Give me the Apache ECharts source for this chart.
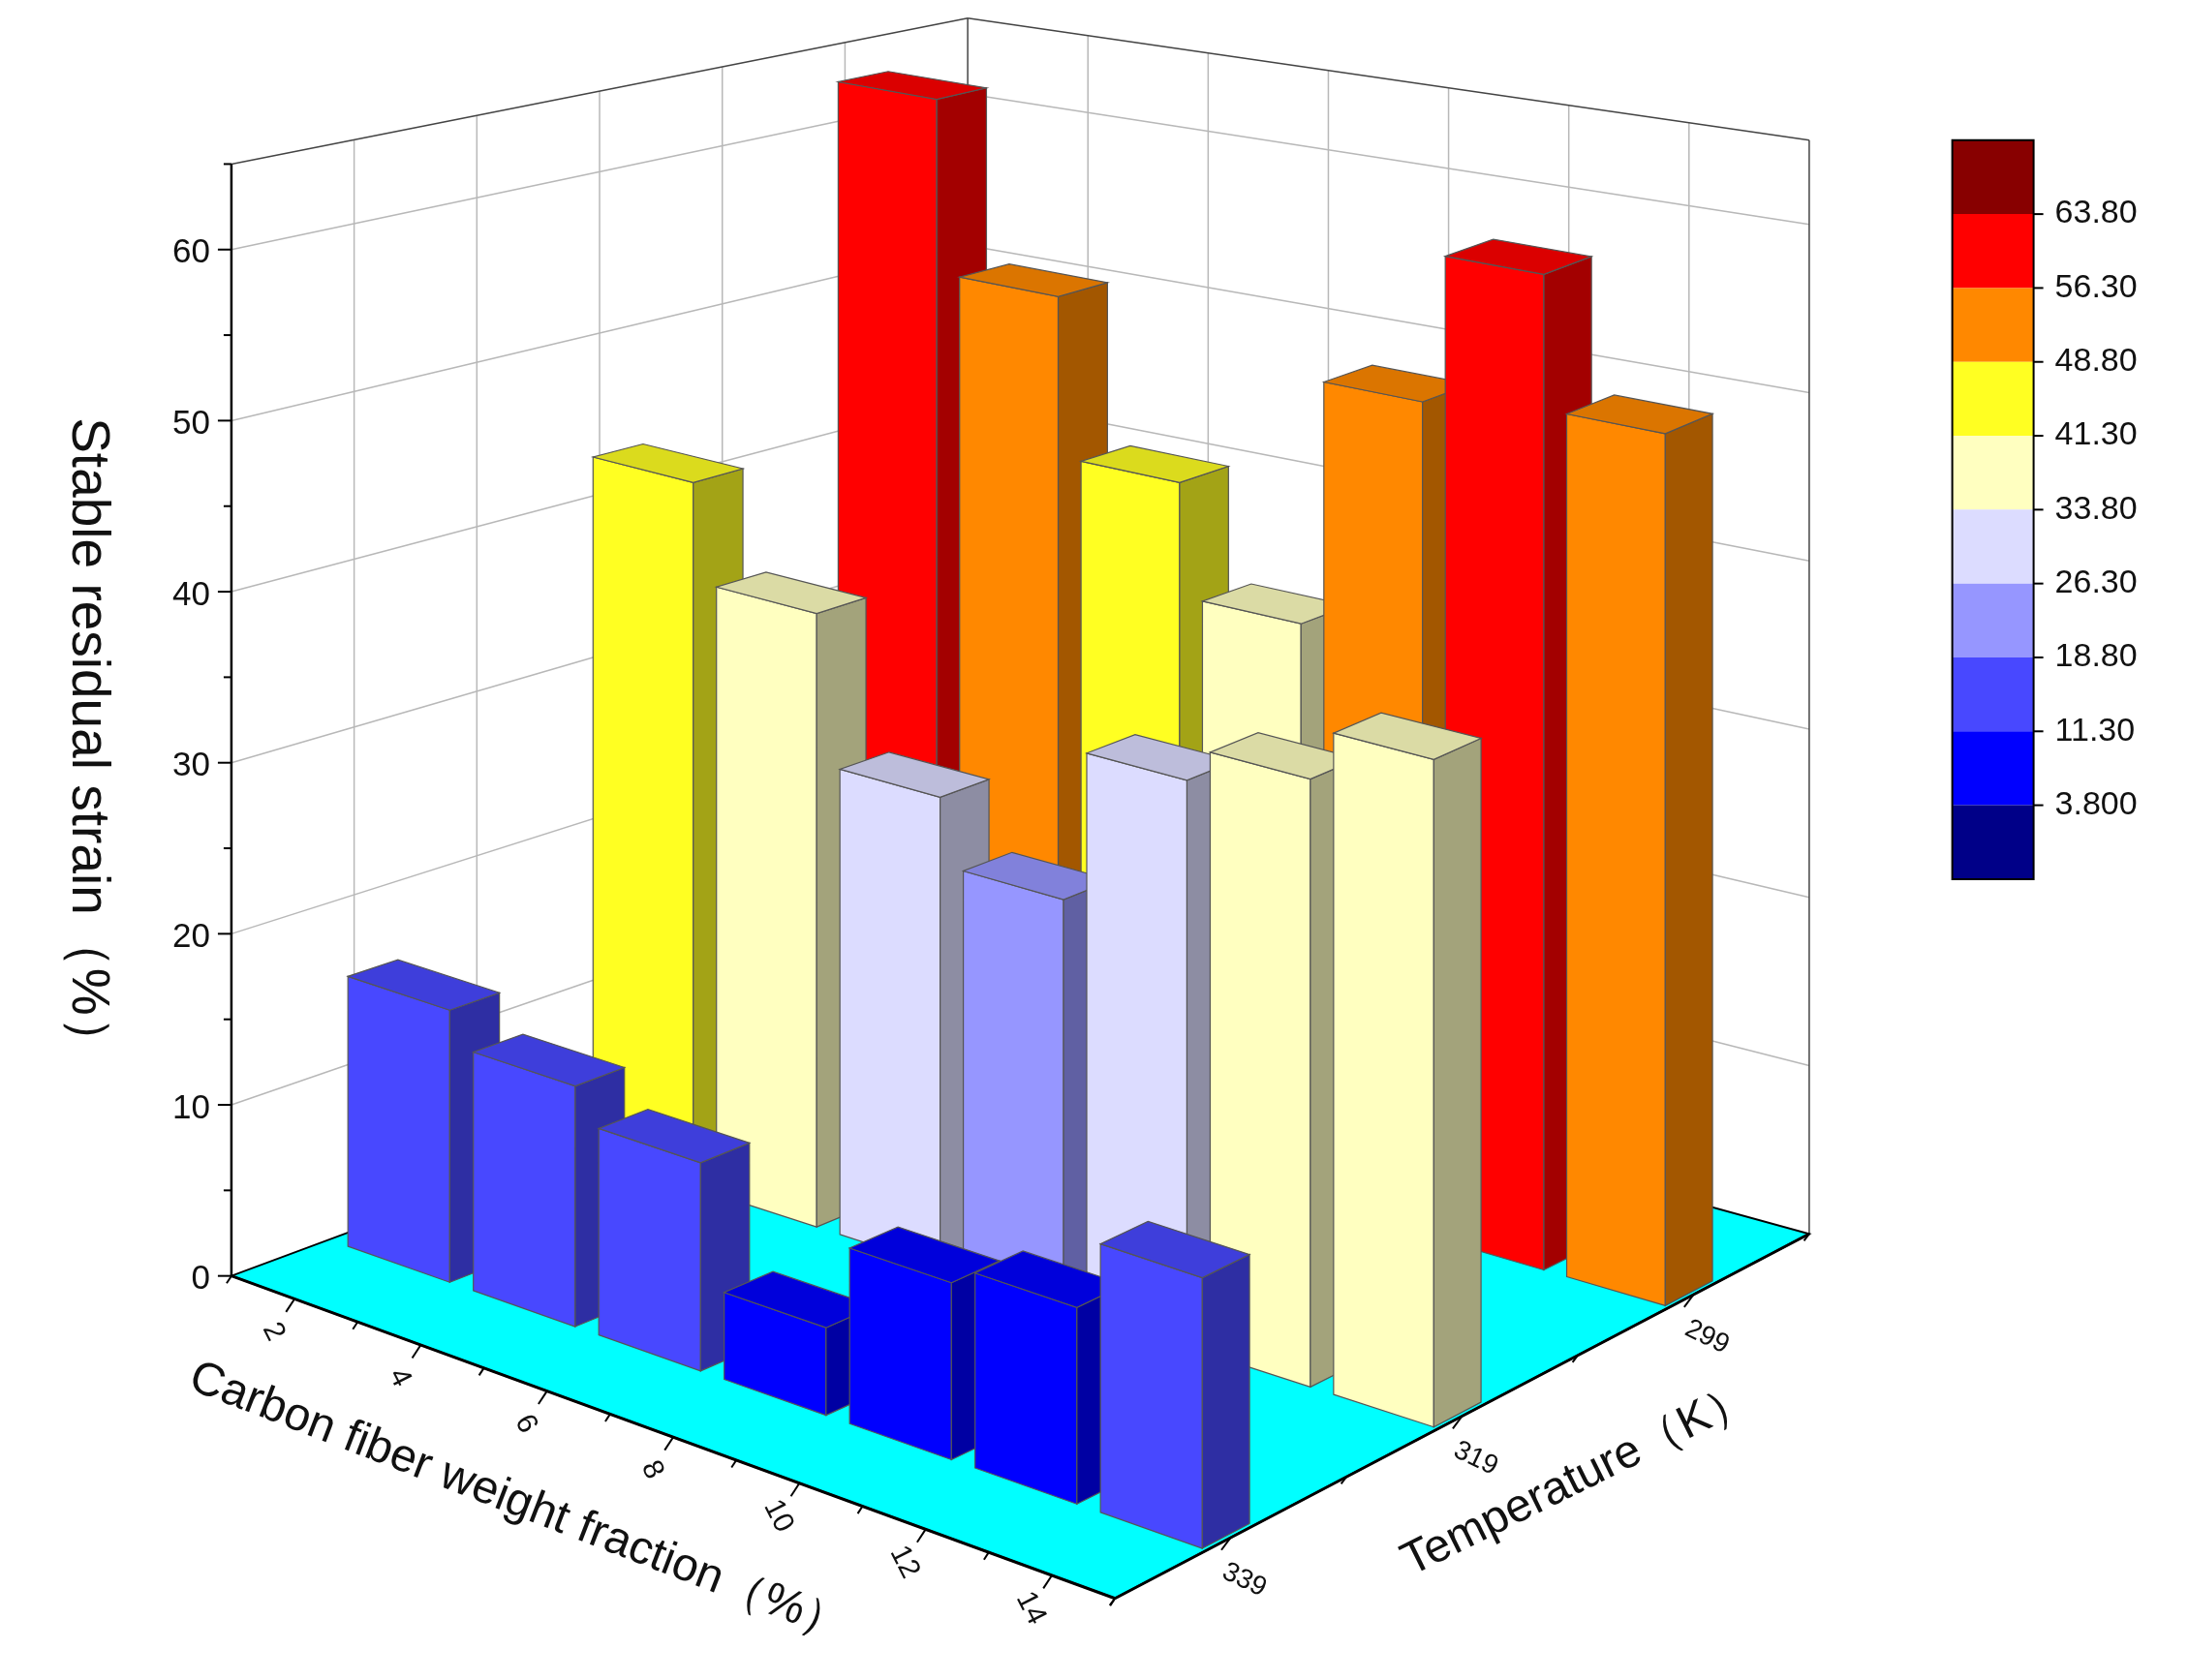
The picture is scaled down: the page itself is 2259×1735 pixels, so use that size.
<!DOCTYPE html>
<html>
<head>
<meta charset="utf-8" />
<title>Stable residual strain</title>
<script src="https://cdn.jsdelivr.net/npm/echarts@6/dist/echarts.min.js"></script>
<style>html,body{margin:0;padding:0;background:#fff;}</style>
</head>
<body>
<div id="chart" style="width:2259px;height:1735px;"></div>
<script>
// categories
var fractions = ['2', '4', '6', '8', '10', '12', '14'];
var temps = ['339', '319', '299'];
// strain values per temperature row (index = fraction)
var strain339 = [16, 14, 12, 5, 10, 11, 15];
var strain319 = [43, 37, 28, 24, 33, 35, 38];
var strain299 = [63, 52, 42, 35, 50, 59, 51];
var valueTicks = [0, 10, 20, 30, 40, 50, 60];
var legendLabels = ['63.80', '56.30', '48.80', '41.30', '33.80', '26.30', '18.80', '11.30', '3.800'];
var legendColors = ['#880000', '#ff0000', '#ff8800', '#ffff22', '#ffffc0', '#dcdcff', '#9696ff', '#4848ff', '#0000ff', '#000088'];
var bounds = [-3.7, 3.8, 11.3, 18.8, 26.3, 33.8, 41.3, 48.8, 56.3, 63.8, 71.3];

var W = 2259, H = 1735, S = 1.448, VMAX = 65;
// floor corners (u = fraction dir, w = temperature dir)
var A = [165 * S, 910 * S], B = [795 * S, 1140 * S], C = [1290 * S, 880 * S], D = [690 * S, 715 * S];
var sA = 12.2 * S, sB = 13 * S, sC = 12 * S, sD = 10.8 * S;

function proj(u, w, v) {
  var a = (1 - u) * (1 - w), b = u * (1 - w), c = u * w, d = (1 - u) * w;
  var x = a * A[0] + b * B[0] + c * C[0] + d * D[0];
  var y = a * A[1] + b * B[1] + c * C[1] + d * D[1];
  var s = a * sA + b * sB + c * sC + d * sD;
  return [x, y - v * s];
}

// bar data, far rows first so near bars paint on top
var rows = [strain339, strain319, strain299];
var barData = [];
for (var t = 2; t >= 0; t--) {
  for (var i = 0; i < fractions.length; i++) barData.push([i, t, rows[t][i]]);
}

function shade(hex, f) {
  var n = parseInt(hex.slice(1), 16);
  var r = Math.round(((n >> 16) & 255) * f), g = Math.round(((n >> 8) & 255) * f), b = Math.round((n & 255) * f);
  return 'rgb(' + r + ',' + g + ',' + b + ')';
}

var pieces = [];
for (var k = 0; k < 10; k++) pieces.push({ gte: bounds[k], lt: bounds[k + 1], color: legendColors[9 - k] });

var chart = echarts.init(document.getElementById('chart'));

function renderFrame(params, api) {
  var c = function (p) { return api.coord(p); };
  var poly = function (pts, style) { return { type: 'polygon', shape: { points: pts.map(c) }, style: style, silent: true }; };
  var line = function (p1, p2, col, lw) {
    var a = c(p1), b = c(p2);
    return { type: 'line', shape: { x1: a[0], y1: a[1], x2: b[0], y2: b[1] }, style: { stroke: col, lineWidth: lw }, silent: true };
  };
  var text = function (p, str, size, rot, align, vAlign) {
    var q = c(p);
    return { type: 'text', x: q[0], y: q[1], rotation: rot || 0, silent: true,
      style: { text: str, fontSize: size, fontFamily: 'Liberation Sans, Arial', fill: '#111', align: align || 'center', verticalAlign: vAlign || 'middle' } };
  };
  var ch = [];
  var grid = '#b8b8b8';
  // back walls
  ch.push(poly([proj(0, 0, 0), proj(0, 1, 0), proj(0, 1, VMAX), proj(0, 0, VMAX)], { fill: '#fff' }));
  ch.push(poly([proj(0, 1, 0), proj(1, 1, 0), proj(1, 1, VMAX), proj(0, 1, VMAX)], { fill: '#fff' }));
  for (var v = 10; v <= 60; v += 10) {
    ch.push(line(proj(0, 0, v), proj(0, 1, v), grid, 1.5));
    ch.push(line(proj(0, 1, v), proj(1, 1, v), grid, 1.5));
  }
  for (var k = 1; k < 6; k++) ch.push(line(proj(0, k / 6, 0), proj(0, k / 6, VMAX), grid, 1.5));
  for (var k = 1; k < 7; k++) ch.push(line(proj(k / 7, 1, 0), proj(k / 7, 1, VMAX), grid, 1.5));
  ch.push(line(proj(0, 0, VMAX), proj(0, 1, VMAX), '#444', 1.5));
  ch.push(line(proj(0, 1, VMAX), proj(1, 1, VMAX), '#444', 1.5));
  ch.push(line(proj(0, 1, 0), proj(0, 1, VMAX), '#444', 1.5));
  ch.push(line(proj(1, 1, 0), proj(1, 1, VMAX), '#444', 1.5));
  // floor
  ch.push(poly([proj(0, 0, 0), proj(1, 0, 0), proj(1, 1, 0), proj(0, 1, 0)], { fill: '#00ffff', stroke: '#000', lineWidth: 2 }));
  // value axis
  ch.push(line(proj(0, 0, 0), proj(0, 0, VMAX), '#000', 2.5));
  for (var v = 0; v <= VMAX; v += 5) {
    var p = proj(0, 0, v);
    ch.push(line(p, [p[0] - (v % 10 === 0 ? 14 : 8), p[1]], '#000', 2));
  }
  valueTicks.forEach(function (vt) {
    var p = proj(0, 0, vt);
    ch.push(text([p[0] - 22, p[1] + 4], String(vt), 35, 0, 'right'));
  });
  // fraction axis
  ch.push(line(proj(0, 0, 0), proj(1, 0, 0), '#000', 3));
  for (var k = 0; k <= 14; k++) {
    var p = proj(k / 14, 0, 0);
    var len = (k % 2 === 1) ? 16 : 9;
    ch.push(line(p, [p[0] - len * 0.55, p[1] + len * 0.84], '#000', 2));
  }
  fractions.forEach(function (f, i) {
    var p = proj((i + 0.5) / 7, 0, 0);
    ch.push(text([p[0] - 22, p[1] + 34], f, 30, -1.1));
  });
  // temperature axis
  ch.push(line(proj(1, 0, 0), proj(1, 1, 0), '#000', 3));
  for (var k = 0; k <= 6; k++) {
    var p = proj(1, k / 6, 0);
    var len = (k % 2 === 1) ? 16 : 9;
    ch.push(line(p, [p[0] - len * 0.6, p[1] + len * 0.8], '#000', 2));
  }
  temps.forEach(function (tl, t) {
    var p = proj(1, (t + 0.5) / 3, 0);
    ch.push(text([p[0] + 14, p[1] + 44], tl, 28, -0.45));
  });
  // axis titles
  ch.push(text([62 * S, 530 * S], 'Stable residual strain（%）', 55, -Math.PI / 2));
  ch.push(text([370 * S, 1072 * S], 'Carbon fiber weight fraction（%）', 48, -0.37));
  ch.push(text([1125 * S, 1055 * S], 'Temperature（K）', 48, 0.46));
  // colour legend
  var lx = 1392 * S, ly = 100 * S, lw = 58 * S, lh = 52.7 * S;
  legendColors.forEach(function (col, k) {
    ch.push({ type: 'rect', shape: { x: lx, y: ly + k * lh, width: lw, height: lh }, style: { fill: col }, silent: true });
  });
  ch.push({ type: 'rect', shape: { x: lx, y: ly, width: lw, height: lh * 10 }, style: { fill: null, stroke: '#000', lineWidth: 2 }, silent: true });
  legendLabels.forEach(function (lb, k) {
    var y = ly + (k + 1) * lh;
    ch.push({ type: 'line', shape: { x1: lx + lw, y1: y, x2: lx + lw + 10, y2: y }, style: { stroke: '#000', lineWidth: 2 }, silent: true });
    ch.push({ type: 'text', x: lx + lw + 22, y: y, silent: true,
      style: { text: lb, fontSize: 34, fontFamily: 'Liberation Sans, Arial', fill: '#111', align: 'left', verticalAlign: 'middle' } });
  });
  return { type: 'group', children: ch };
}

function renderBar(params, api) {
  var i = api.value(0), t = api.value(1), v = api.value(2);
  var col = api.visual('color');
  var uc = (i + 0.5) / 7 + 0.008, wc = (t + 0.5) / 3, du = 0.058, dw = 0.034;
  var u0 = uc - du, u1 = uc + du, w0 = wc - dw, w1 = wc + dw;
  var c = function (p) { return api.coord(p); };
  var edge = { stroke: '#555', lineWidth: 1.2 };
  var face = function (pts, fill) {
    return { type: 'polygon', shape: { points: pts.map(c) }, style: Object.assign({ fill: fill }, edge) };
  };
  return { type: 'group', children: [
    face([proj(u0, w0, 0), proj(u1, w0, 0), proj(u1, w0, v), proj(u0, w0, v)], col),
    face([proj(u1, w0, 0), proj(u1, w1, 0), proj(u1, w1, v), proj(u1, w0, v)], shade(col, 0.64)),
    face([proj(u0, w0, v), proj(u1, w0, v), proj(u1, w1, v), proj(u0, w1, v)], shade(col, 0.86))
  ] };
}

chart.setOption({
  animation: false,
  backgroundColor: '#fff',
  grid: { left: 0, right: 0, top: 0, bottom: 0 },
  xAxis: { type: 'value', min: 0, max: W, show: false },
  yAxis: { type: 'value', min: 0, max: H, inverse: true, show: false },
  visualMap: { type: 'piecewise', show: false, dimension: 2, seriesIndex: 1, pieces: pieces },
  series: [
    { type: 'custom', renderItem: renderFrame, data: [[0, 0]], z: 1 },
    { type: 'custom', renderItem: renderBar, data: barData, z: 2 }
  ]
});
</script>
</body>
</html>
